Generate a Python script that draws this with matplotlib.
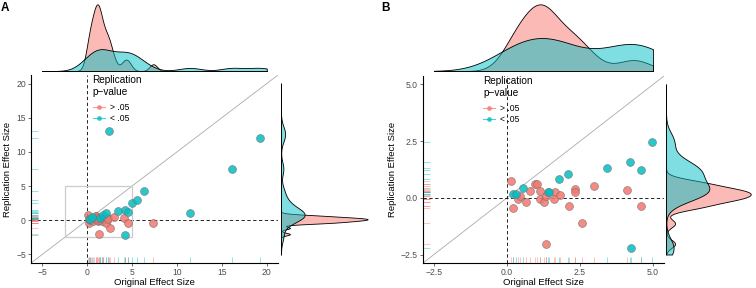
import numpy as np
import matplotlib
matplotlib.use("Agg")
import matplotlib.pyplot as plt
from matplotlib.lines import Line2D
from matplotlib.patches import Rectangle
from matplotlib.colors import to_rgba

plt.rcParams['font.family'] = ['Liberation Sans', 'DejaVu Sans']

# replication p > .05
ns_orig = [0.14, 0.19, 0.36, 0.45, 0.65, 0.78, 0.97, 1.02, 1.13, 1.13, 1.25, 1.35,
           1.64, 1.61, 1.81, 2.14, 2.32, 2.32, 1.33, 2.57, 2.98, 4.10, 4.60, 7.37]
ns_rep = [0.75, -0.47, -0.03, 0.07, -0.17, 0.30, 0.63, 0.63, 0.29, -0.03, -0.17, 0.07,
          0.24, -0.04, 0.14, -0.36, 0.39, 0.24, -2.03, -1.13, 0.52, 0.36, -0.38, -0.34]
# replication p < .05
sig_orig = [0.21, 0.31, 0.54, 1.39, 1.44, 1.78, 2.10, 3.44, 4.22, 4.59, 4.96, 4.25,
            5.60, 6.37, 11.46, 16.18, 2.40, 19.20]
sig_rep = [0.17, 0.17, 0.43, 0.26, 0.26, 0.83, 1.04, 1.30, 1.56, 1.23, 2.48, -2.22,
           2.90, 4.27, 1.02, 7.52, 13.10, 12.10]

groups = ['> .05', '< .05']
colors = ['#F8766D', '#00BFC4']
lims_full = (-5, 20)
lims_zoom = (-2.5, 5)
ticks_full = [-5, 0, 5, 10, 15, 20]
ticks_zoom = [-2.5, 0.0, 2.5, 5.0]

W, H = 756, 288
fig = plt.figure(figsize=(W / 100, H / 100), dpi=100)


def rect(l, t, r, b):
    return [l / W, 1 - b / H, (r - l) / W, (b - t) / H]


def nrd0(v):
    v = np.asarray(v)
    q = np.percentile(v, [25, 75])
    s = min(np.std(v, ddof=1), (q[1] - q[0]) / 1.34)
    return 0.9 * s * len(v) ** -0.2


def kde(v, grid, adjust=1.0):
    v = np.asarray(v)
    bw = nrd0(v) * adjust
    z = (grid[None, :] - v[:, None]) / bw
    return np.exp(-0.5 * z ** 2).sum(0) / (len(v) * bw * np.sqrt(2 * np.pi))


def panel(px, lims, ticks, tag, fmt, box=None, adj=(1.0, 1.0)):
    lo, hi = lims
    pad = (hi - lo) * 0.05
    ax = fig.add_axes(rect(*px['main']))
    axt = fig.add_axes(rect(*px['top']))
    axr = fig.add_axes(rect(*px['right']))

    data = []
    for xs, ys in [(ns_orig, ns_rep), (sig_orig, sig_rep)]:
        xs, ys = np.array(xs), np.array(ys)
        keep = (xs >= lo) & (xs <= hi) & (ys >= lo) & (ys <= hi)
        data.append((xs[keep], ys[keep]))

    ax.axline((0, 0), slope=1, color='#AAAAAA', lw=0.6, zorder=1)
    ax.axhline(0, color='black', lw=0.6, ls=(0, (4, 3)), zorder=1)
    ax.axvline(0, color='black', lw=0.6, ls=(0, (4, 3)), zorder=1)
    if box is not None:
        ax.add_patch(Rectangle((box[0], box[0]), box[1] - box[0], box[1] - box[0],
                               fill=False, ec='#CCCCCC', lw=0.9, zorder=1))
    for (xs, ys), c in zip(data, colors):
        ax.vlines(xs, 0, 0.03, transform=ax.get_xaxis_transform(), color=c, alpha=0.5, lw=0.6)
        ax.hlines(ys, 0, 0.03, transform=ax.get_yaxis_transform(), color=c, alpha=0.5, lw=0.6)
    for (xs, ys), c in zip(data, colors):
        ax.scatter(xs, ys, s=32, color=c, alpha=0.85, edgecolors='#777777', linewidths=0.5, zorder=3)

    ax.set_xlim(lo - pad, hi + pad)
    ax.set_ylim(lo - pad, hi + pad)
    ax.set_xticks(ticks)
    ax.set_yticks(ticks)
    ax.set_xticklabels([fmt(t) for t in ticks])
    ax.set_yticklabels([fmt(t) for t in ticks])
    for s in ['top', 'right']:
        ax.spines[s].set_visible(False)
    for s in ['left', 'bottom']:
        ax.spines[s].set_linewidth(0.8)
    ax.tick_params(length=2.2, width=0.5, color='#333333', labelsize=6.2,
                   labelcolor='#4D4D4D', pad=1.5)
    ax.set_xlabel('Original Effect Size', fontsize=6.8, labelpad=0.3)
    ax.set_ylabel('Replication Effect Size', fontsize=6.8, labelpad=3)

    handles = [Line2D([], [], color=c, lw=0.8, marker='o', markersize=2.5, alpha=0.7)
               for c in colors]
    leg = ax.legend(handles, groups, title='Replication\np\u2212value', loc='upper left',
                    bbox_to_anchor=(0.225, 1.03), frameon=False, fontsize=6.2,
                    title_fontsize=7.2, handlelength=1.4, handletextpad=0.6,
                    labelspacing=0.25, alignment='left', borderpad=0.2)
    leg._legend_box.sep = 4

    grid = np.linspace(lo, hi, 512)
    for (xs, ys), c in zip(data, colors):
        fc = to_rgba(c, 0.5)
        axt.fill_between(grid, 0, kde(xs, grid, adj[0]), facecolor=fc, edgecolor='black', lw=0.6)
        axr.fill_betweenx(grid, 0, kde(ys, grid, adj[1]), facecolor=fc, edgecolor='black', lw=0.6)
    axt.set_xlim(lo - pad, hi + pad)
    axt.set_ylim(0, None)
    axr.set_ylim(lo - pad, hi + pad)
    axr.set_xlim(0, None)
    for a in (axt, axr):
        a.axis('off')

    fig.text(px['tag'][0] / W, 1 - px['tag'][1] / H, tag, fontsize=8.5,
             fontweight='bold', va='top', ha='left')


panel({'main': (31, 75, 278, 263), 'top': (31, 1, 278, 71),
       'right': (281, 75, 372, 263), 'tag': (1, 2)},
      lims_full, ticks_full, 'A', lambda t: f'{t:g}'.replace('-', '\u2212'),
      box=lims_zoom, adj=(0.85, 1.0))
panel({'main': (423, 76, 664, 263), 'top': (423, 1, 664, 71),
       'right': (666, 76, 755, 263), 'tag': (381, 2)},
      lims_zoom, ticks_zoom, 'B', lambda t: f'{t:.1f}'.replace('-', '\u2212'))

fig.savefig('out.png', dpi=100)
